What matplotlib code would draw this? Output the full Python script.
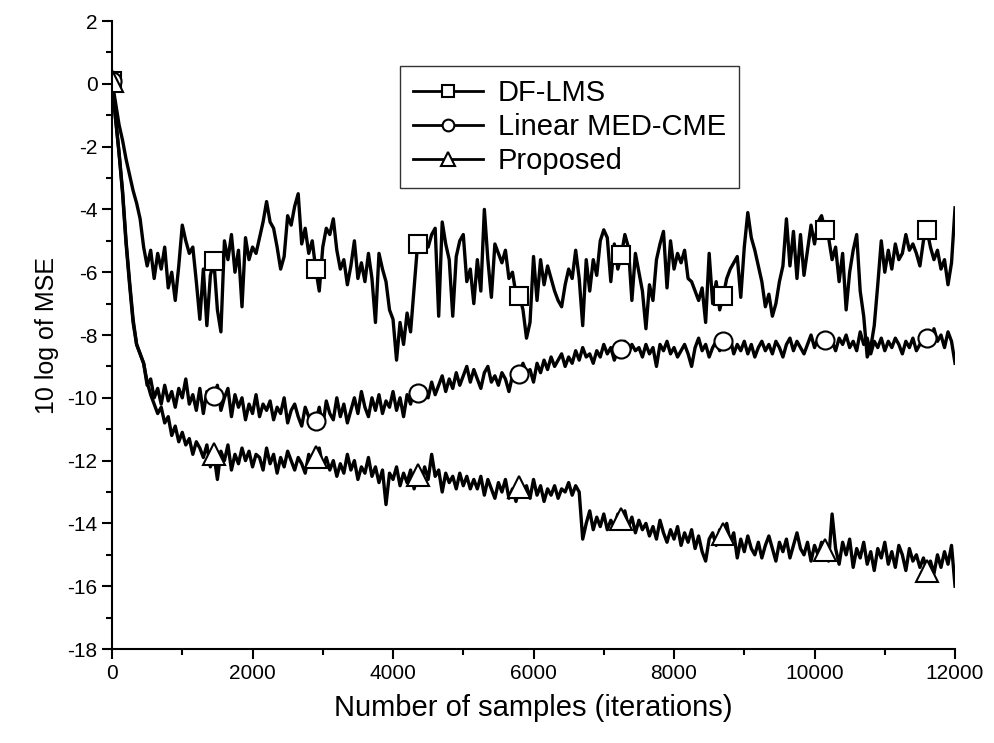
import numpy as np
import matplotlib.pyplot as plt
from matplotlib.ticker import MultipleLocator

plt.rcParams['font.family'] = ['Liberation Sans', 'DejaVu Sans']
plt.rcParams['axes.unicode_minus'] = False

# sample axis: one value every 50 iterations, 0 .. 12000
step = 50
n_points = 241

# DF-LMS (one row = 1000 samples)
df_lms = [
    0.1, -0.6, -1.3, -1.8, -2.4, -2.9, -3.4, -3.8, -4.3, -5.2, -5.8, -5.3, -6.2, -5.4, -5.9, -5.2, -6.5, -6.0, -6.9, -5.8,
    -4.5, -5.0, -5.4, -5.2, -6.3, -7.5, -5.9, -7.7, -6.1, -5.65, -7.2, -7.9, -5.0, -5.6, -4.8, -6.0, -5.3, -7.1, -4.9, -5.6,
    -5.2, -5.4, -4.9, -4.4, -3.75, -4.4, -4.6, -5.2, -5.9, -5.5, -4.2, -4.5, -3.9, -3.5, -5.1, -4.6, -5.4, -5.0, -5.9, -6.6,
    -5.2, -4.6, -4.8, -4.3, -5.3, -5.9, -5.6, -6.4, -5.8, -5.0, -6.2, -5.7, -6.3, -5.4, -6.2, -7.6, -5.4, -5.9, -6.3, -7.2,
    -7.5, -8.8, -7.6, -8.3, -7.3, -7.9, -6.5, -5.1, -5.3, -4.9, -5.2, -4.8, -4.6, -7.4, -4.4, -5.1, -5.6, -7.4, -5.5, -5.0,
    -4.8, -6.3, -5.9, -7.0, -5.6, -6.6, -4.0, -5.6, -6.8, -5.1, -5.4, -5.7, -5.3, -6.2, -6.0, -6.7, -6.75, -7.2, -8.1, -7.6,
    -5.5, -6.9, -5.6, -6.4, -5.8, -6.2, -6.6, -6.9, -7.1, -6.4, -5.9, -6.2, -5.3, -6.2, -7.7, -5.6, -6.6, -5.6, -6.1, -5.0,
    -4.65, -4.9, -6.3, -5.1, -5.9, -5.45, -4.8, -5.2, -6.9, -5.4, -6.0, -6.6, -7.8, -6.4, -6.9, -5.6, -5.1, -4.7, -6.5, -5.0,
    -5.9, -5.4, -5.7, -5.3, -6.2, -6.3, -6.6, -6.9, -6.5, -7.6, -5.4, -7.0, -6.3, -7.2, -6.75, -6.2, -5.9, -5.7, -5.5, -6.8,
    -5.2, -4.1, -4.9, -5.3, -5.8, -6.3, -7.1, -6.7, -7.4, -7.0, -6.3, -5.8, -4.3, -5.8, -4.7, -6.2, -4.8, -6.1, -5.3, -4.5,
    -5.1, -4.4, -4.2, -4.65, -4.9, -5.6, -5.2, -6.3, -5.4, -7.2, -6.0, -5.3, -4.8, -6.6, -7.4, -8.7, -8.4, -7.7, -6.4, -5.0,
    -6.0, -5.3, -5.9, -5.1, -5.6, -5.4, -4.8, -5.3, -5.1, -5.4, -5.8, -5.0, -4.65, -5.2, -5.6, -5.3, -5.9, -5.6, -6.4, -5.7,
    -3.95,
]

# Linear MED-CME
med_cme = [
    0.1, -1.1, -2.2, -3.4, -5.0, -6.3, -7.5, -8.3, -8.6, -8.9, -9.6, -9.4, -10.0, -9.7, -10.2, -9.6, -10.1, -9.8, -10.3, -9.7,
    -10.0, -9.4, -10.2, -9.9, -10.4, -9.7, -10.5, -9.8, -10.1, -9.95, -9.6, -10.4, -10.0, -9.7, -10.6, -9.9, -10.3, -10.0, -10.7, -10.2,
    -10.5, -9.9, -10.6, -10.2, -10.4, -10.1, -10.7, -10.3, -10.5, -10.0, -10.8, -10.4, -10.2, -10.6, -10.9, -10.3, -10.6, -10.8, -10.75, -10.3,
    -10.9, -10.1, -10.5, -10.7, -10.0, -10.6, -10.2, -10.8, -10.4, -10.0, -10.5, -9.8, -10.3, -10.6, -10.0, -10.4, -9.9, -10.5, -10.1, -10.3,
    -9.8, -10.4, -10.0, -10.6, -9.9, -10.2, -9.7, -9.85, -10.1, -9.7, -10.0, -9.5, -9.9, -9.6, -9.3, -9.8, -9.4, -9.7, -9.2, -9.6,
    -9.3, -9.0, -9.5, -9.1, -9.4, -9.7, -9.2, -9.0, -9.5, -9.3, -9.6, -9.2, -9.4, -9.8, -9.3, -9.1, -9.25, -8.9, -9.2, -9.1,
    -9.5, -8.9, -9.2, -8.8, -9.1, -8.7, -9.0, -8.8, -8.6, -9.0, -8.7, -8.9, -8.5, -8.8, -8.4, -8.7, -8.6, -8.9, -8.5, -8.7,
    -8.3, -8.6, -8.4, -8.8, -8.5, -8.45, -8.2, -8.6, -8.3, -8.5, -8.4, -8.7, -8.3, -8.6, -8.4, -9.0, -8.3, -8.5, -8.2, -8.6,
    -8.4, -8.7, -8.5, -8.3, -8.6, -9.0, -8.4, -8.1, -8.5, -8.3, -8.7, -8.4, -8.2, -8.5, -8.2, -8.4, -8.1, -8.6, -8.3, -8.5,
    -8.2, -8.6, -8.3, -8.7, -8.4, -8.2, -8.5, -8.3, -8.6, -8.2, -8.4, -8.7, -8.3, -8.1, -8.5, -8.2, -8.4, -8.6, -8.3, -8.0,
    -8.4, -8.1, -8.3, -8.15, -8.4, -8.2, -8.5, -8.1, -8.3, -8.0, -8.4, -8.2, -8.5, -7.9, -8.3, -8.1, -8.6, -8.2, -8.4, -8.1,
    -8.5, -8.2, -8.4, -8.1, -8.3, -8.6, -8.2, -8.4, -8.1, -8.5, -8.3, -7.9, -8.1, -8.3, -7.8, -8.2, -8.0, -8.4, -7.9, -8.2,
    -8.9,
]

# Proposed
proposed = [
    0.1, -1.1, -2.2, -3.5, -5.1, -6.4, -7.6, -8.3, -8.6, -8.9, -9.5, -9.9, -10.2, -10.5, -10.3, -10.8, -10.6, -11.2, -10.9, -11.4,
    -11.1, -11.5, -11.3, -11.8, -11.4, -11.6, -11.9, -11.5, -12.2, -11.8, -12.6, -11.7, -12.0, -11.5, -12.3, -11.8, -12.1, -11.6, -12.0, -11.7,
    -12.2, -11.8, -11.9, -12.3, -11.6, -12.1, -11.8, -12.4, -11.9, -12.2, -11.7, -12.0, -12.3, -11.9, -12.1, -12.4, -11.8, -12.2, -11.9, -11.6,
    -12.2, -11.9, -12.3, -12.0, -12.5, -12.1, -12.4, -11.8, -12.3, -12.0, -12.6, -12.2, -12.4, -11.9, -12.5, -12.2, -12.7, -12.3, -13.4, -12.4,
    -12.6, -12.2, -12.8, -12.4, -12.7, -12.3, -12.9, -12.45, -12.7, -12.2, -12.6, -11.8, -12.5, -12.3, -13.0, -12.4, -12.7, -12.5, -12.9, -12.4,
    -12.8, -12.5, -12.9, -12.6, -12.9, -12.5, -13.1, -12.6, -12.9, -13.2, -12.7, -13.0, -12.6, -13.2, -12.9, -13.3, -12.85, -13.1, -12.8, -13.2,
    -12.6, -13.1, -12.8, -13.3, -12.9, -13.1, -12.8, -13.2, -12.9, -13.0, -12.7, -13.1, -12.8, -13.0, -14.5, -14.0, -13.6, -14.2, -13.8, -14.1,
    -13.7, -14.2, -13.9, -14.1, -13.7, -13.85, -13.6, -14.1, -13.8, -14.3, -13.9, -14.2, -14.0, -14.4, -14.1, -14.5, -13.9, -14.3, -14.6, -14.2,
    -14.5, -14.1, -14.7, -14.3, -14.6, -14.2, -14.8, -14.4, -14.9, -15.2, -14.5, -14.3, -14.7, -14.2, -14.35, -14.0, -14.6, -14.3, -15.1, -14.5,
    -14.9, -14.4, -14.8, -15.0, -14.6, -15.1, -14.7, -14.4, -14.8, -15.2, -14.6, -14.9, -14.5, -15.1, -14.7, -14.3, -14.8, -15.0, -14.6, -15.2,
    -14.7, -15.0, -14.6, -14.85, -15.2, -13.7, -14.8, -15.3, -14.6, -15.0, -14.5, -15.4, -14.8, -15.1, -14.6, -15.3, -14.9, -15.5, -14.8, -15.1,
    -14.6, -15.3, -14.9, -15.4, -14.7, -15.0, -15.5, -14.8, -15.2, -15.0, -15.4, -15.1, -15.5, -15.2, -15.6, -15.0, -15.4, -14.9, -15.3, -14.7,
    -16.0,
]

labels = ['DF-LMS', 'Linear MED-CME', 'Proposed']
markers = ['s', 'o', '^']

samples = np.arange(n_points) * step

fig = plt.figure(figsize=(9.94, 7.43), dpi=100)
ax = fig.add_axes([0.1127, 0.1265, 0.8481, 0.8452])

for data, lab, mk in zip([df_lms, med_cme, proposed], labels, markers):
    ms = 16 if mk == '^' else 13
    ax.plot(samples, data, color='black', lw=2.4, marker=mk, markevery=29,
            markersize=ms, markerfacecolor='white', markeredgecolor='black',
            markeredgewidth=1.5, label=lab)

ax.set_xlim(0, 12000)
ax.set_ylim(-18, 2)
ax.xaxis.set_major_locator(MultipleLocator(2000))
ax.yaxis.set_major_locator(MultipleLocator(2))
ax.yaxis.set_minor_locator(MultipleLocator(1))
ax.xaxis.set_minor_locator(MultipleLocator(1000))

ax.spines['top'].set_visible(False)
ax.spines['right'].set_visible(False)
ax.spines['left'].set_linewidth(1.5)
ax.spines['bottom'].set_linewidth(1.5)
ax.tick_params(which='major', direction='out', length=7, width=1.5, labelsize=15)
ax.tick_params(which='minor', direction='out', length=4, width=1.5)

ax.set_xlabel('Number of samples (iterations)', fontsize=21, labelpad=8)
ax.set_ylabel('10 log of MSE', fontsize=18, labelpad=6)

leg = ax.legend(loc='upper left', bbox_to_anchor=(0.342, 0.928), borderaxespad=0,
                fontsize=21, frameon=True, fancybox=False, edgecolor='black',
                markerscale=0.65, handlelength=2.4, handletextpad=0.5,
                borderpad=0.45, labelspacing=0.2)
leg.get_frame().set_linewidth(1.0)
for h in leg.get_lines():
    h.set_linewidth(2.0)

fig.savefig('out.png', dpi=100)
